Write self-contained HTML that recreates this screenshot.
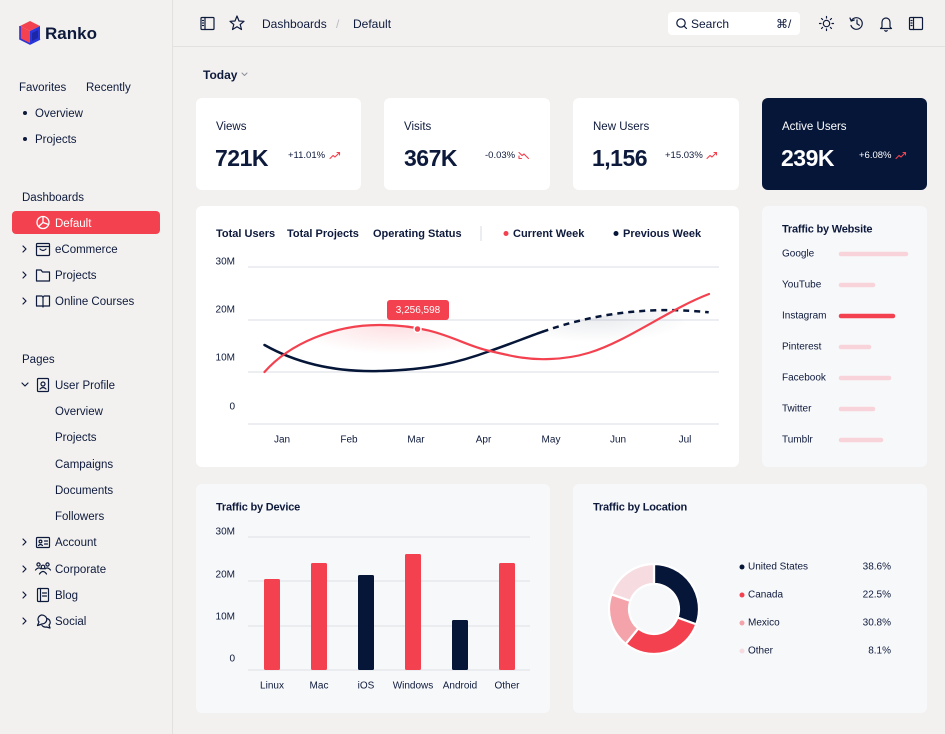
<!DOCTYPE html>
<html><head><meta charset="utf-8">
<style>
*{margin:0;padding:0;box-sizing:border-box}
body{width:945px;height:734px;overflow:hidden;background:#f2f1ef;font-family:"Liberation Sans",sans-serif;color:#0e1a3c;position:relative}
.t{position:absolute;white-space:nowrap;line-height:16px;height:16px;font-size:11.5px;transform:translateY(1px)}
.card{position:absolute;border-radius:6px;background:#fff}
.lc{background:#f7f8fa}
svg.ov{position:absolute;left:0;top:0}
</style></head><body>
<div style="position:absolute;left:172px;top:0;width:1px;height:734px;background:#e3e1de"></div>
<div style="position:absolute;left:173px;top:46px;width:772px;height:1px;background:#e3e1de"></div>

<div class="t" style="left:45px;top:24px;font-size:17px;font-weight:bold;line-height:18px;height:18px">Ranko</div>
<div class="t" style="left:19px;top:79px">Favorites</div>
<div class="t" style="left:86px;top:79px">Recently</div>
<div class="t" style="left:35px;top:105px">Overview</div>
<div class="t" style="left:35px;top:131px">Projects</div>
<div class="t" style="left:22px;top:189px">Dashboards</div>
<div style="position:absolute;left:12px;top:211px;width:148px;height:23px;border-radius:4px;background:#f3414f"></div>
<div class="t" style="left:55px;top:215px;color:#fff">Default</div>
<div class="t" style="left:55px;top:241px">eCommerce</div>
<div class="t" style="left:55px;top:267px">Projects</div>
<div class="t" style="left:55px;top:293px">Online Courses</div>
<div class="t" style="left:22px;top:351px">Pages</div>
<div class="t" style="left:55px;top:377px">User Profile</div>
<div class="t" style="left:55px;top:403px">Overview</div>
<div class="t" style="left:55px;top:429px">Projects</div>
<div class="t" style="left:55px;top:456px">Campaigns</div>
<div class="t" style="left:55px;top:482px">Documents</div>
<div class="t" style="left:55px;top:508px">Followers</div>
<div class="t" style="left:55px;top:534px">Account</div>
<div class="t" style="left:55px;top:561px">Corporate</div>
<div class="t" style="left:55px;top:587px">Blog</div>
<div class="t" style="left:55px;top:613px">Social</div>

<div class="t" style="left:262px;top:15px;font-size:12px">Dashboards</div>
<div class="t" style="left:336px;top:15px;font-size:12px;color:#b9bcc4">/</div>
<div class="t" style="left:353px;top:15px;font-size:12px">Default</div>
<div style="position:absolute;left:668px;top:12px;width:132px;height:23px;border-radius:4px;background:#fff"></div>
<div class="t" style="left:691px;top:15px;font-size:12px">Search</div>
<div class="t" style="left:776px;top:15px;font-size:12px">⌘/</div>
<div class="t" style="left:203px;top:66px;font-size:12px;font-weight:bold">Today</div>

<div class="card" style="left:196px;top:98px;width:165px;height:92px"></div>
<div class="card" style="left:384px;top:98px;width:166px;height:92px"></div>
<div class="card" style="left:573px;top:98px;width:166px;height:92px"></div>
<div class="card" style="left:762px;top:98px;width:165px;height:92px;background:#061638"></div>

<div class="t" style="left:216px;top:118px;font-size:11.5px">Views</div>
<div class="t" style="left:215px;top:146px;font-size:23px;font-weight:bold;letter-spacing:-0.5px;line-height:22px;height:22px">721K</div>
<div class="t" style="left:288px;top:147px;font-size:9.5px">+11.01%</div>

<div class="t" style="left:404px;top:118px;font-size:11.5px">Visits</div>
<div class="t" style="left:404px;top:146px;font-size:23px;font-weight:bold;letter-spacing:-0.5px;line-height:22px;height:22px">367K</div>
<div class="t" style="left:485px;top:147px;font-size:9.5px">-0.03%</div>

<div class="t" style="left:593px;top:118px;font-size:11.5px">New Users</div>
<div class="t" style="left:592px;top:146px;font-size:23px;font-weight:bold;letter-spacing:-0.5px;line-height:22px;height:22px">1,156</div>
<div class="t" style="left:665px;top:147px;font-size:9.5px">+15.03%</div>

<div class="t" style="left:782px;top:118px;font-size:11.5px;color:#fff">Active Users</div>
<div class="t" style="left:781px;top:146px;font-size:23px;font-weight:bold;letter-spacing:-0.5px;line-height:22px;height:22px;color:#fff">239K</div>
<div class="t" style="left:859px;top:147px;font-size:9.5px;color:#fff">+6.08%</div>

<div class="card" style="left:196px;top:206px;width:543px;height:261px"></div>
<div class="card lc" style="left:762px;top:206px;width:165px;height:261px"></div>
<div class="card lc" style="left:196px;top:484px;width:354px;height:229px"></div>
<div class="card lc" style="left:573px;top:484px;width:354px;height:229px"></div>

<svg class="ov" width="945" height="734" viewBox="0 0 945 734" font-family="Liberation Sans, sans-serif">
<defs>
  <clipPath id="belowRed"><path d="M264.5,372 C290,343 335,325 379,325 C440,325 460,345 490,351 C515,357 530,360 550,359 C580,358 600,350 620,340 C650,325 680,305 709,294 L709,430 L264.5,430 Z"/></clipPath>
  <clipPath id="belowDash"><path d="M542.6,331.7 C570,322 600,315 630,312 C660,309 685,310 708.7,312.3 L709,430 L542,430 Z"/></clipPath>
  <radialGradient id="rg" cx="0.5" cy="0.3" r="0.6">
    <stop offset="0" stop-color="#f3414f" stop-opacity="0.18"/>
    <stop offset="1" stop-color="#f3414f" stop-opacity="0"/>
  </radialGradient>
  <radialGradient id="gg" cx="0.45" cy="0.3" r="0.6">
    <stop offset="0" stop-color="#061638" stop-opacity="0.09"/>
    <stop offset="1" stop-color="#061638" stop-opacity="0"/>
  </radialGradient>
</defs>

<polygon points="30,21 40,26 30,31 20,26" fill="#f3414f"/>
<polygon points="20,26 30,31 30,44 20,39" fill="#f3414f"/>
<polygon points="30,31 40,26 40,39 30,44" fill="#2936d9"/>
<polyline points="20,26 20,39 30,44 40,39" fill="none" stroke="#2936d9" stroke-width="1.6"/>
<polygon points="32,33 38,30 38,38 32,41" fill="#1c27a8"/>

<g fill="#0e1a3c"><circle cx="25" cy="113" r="2"/><circle cx="25" cy="139" r="2"/></g>
<g fill="none" stroke="#0e1a3c" stroke-width="1.2" stroke-linecap="round" stroke-linejoin="round">
  <polyline points="23,246 26,249 23,252"/>
  <polyline points="23,272 26,275 23,278"/>
  <polyline points="23,298 26,301 23,304"/>
  <polyline points="22,383 25,386 28,383"/>
  <polyline points="23,539 26,542 23,545"/>
  <polyline points="23,566 26,569 23,572"/>
  <polyline points="23,592 26,595 23,598"/>
  <polyline points="23,618 26,621 23,624"/>
  <rect x="36.5" y="243.5" width="13" height="12" rx="1"/><line x1="36.5" y1="246.5" x2="49.5" y2="246.5"/><path d="M40,249 Q43,252 46,249"/>
  <path d="M36.5,270 L41,270 L42.5,272 L49.5,272 L49.5,281 L36.5,281 Z"/>
  <path d="M36.5,296 L42,296 Q43,297 43,298 L43,307 Q43,306 42,306 L36.5,306 Z M49.5,296 L44,296 Q43,297 43,298 M43,307 Q43,306 44,306 L49.5,306 L49.5,296"/>
  <rect x="37.5" y="378.5" width="11" height="13" rx="1"/><circle cx="43" cy="384" r="2"/><path d="M40,389 Q43,386 46,389"/>
  <rect x="36.5" y="537.5" width="13" height="10" rx="1"/><circle cx="40.5" cy="541.5" r="1.4"/><path d="M38.5,545.5 Q40.5,543.5 42.5,545.5"/><line x1="44.5" y1="541" x2="47.5" y2="541"/><line x1="44.5" y1="544" x2="47.5" y2="544"/>
  <circle cx="43" cy="567" r="1.8"/><circle cx="38.5" cy="564.5" r="1.6"/><circle cx="47.5" cy="564.5" r="1.6"/><path d="M39.5,574 Q43,569 46.5,574"/><path d="M35.5,570 Q38.5,566.5 41,569"/><path d="M50.5,570 Q47.5,566.5 45,569"/>
  <rect x="37.5" y="588.5" width="11" height="13" rx="1"/><line x1="40.5" y1="588.5" x2="40.5" y2="601.5"/><line x1="42.5" y1="593" x2="46.5" y2="593"/><line x1="42.5" y1="596" x2="46.5" y2="596"/>
  <path d="M41.5,615 A5,4.5 0 1 1 42,624 L37.5,625.5 L39,622 A5,4.5 0 0 1 41.5,615 Z"/><path d="M47,618.5 A4.5,4 0 0 1 49,625 L50,628 L46.5,627 A4.5,4 0 0 1 42,625.5"/>
</g>
<g fill="none" stroke="#fff" stroke-width="1.3">
  <circle cx="43" cy="222.5" r="6"/><path d="M43,216.5 L43,222.5 L48.5,224.5 M43,222.5 L38.5,226.5"/>
</g>

<g fill="none" stroke="#0e1a3c" stroke-width="1.2" stroke-linejoin="round" stroke-linecap="round">
  <rect x="201" y="17.5" width="13" height="12" rx="1"/><line x1="205" y1="17.5" x2="205" y2="29.5"/>
  <line x1="202.5" y1="20.5" x2="203.5" y2="20.5"/><line x1="202.5" y1="23" x2="203.5" y2="23"/><line x1="202.5" y1="25.5" x2="203.5" y2="25.5"/>
  <polygon points="237,16 239,21 244,21.3 240.2,24.5 241.5,29.5 237,26.7 232.5,29.5 233.8,24.5 230,21.3 235,21"/>
  <circle cx="681" cy="23" r="4.2"/><line x1="684" y1="26" x2="686.5" y2="28.5"/>
  <circle cx="826.5" cy="23.5" r="3.2"/>
  <g>
   <line x1="826.5" y1="16.5" x2="826.5" y2="18"/><line x1="826.5" y1="29" x2="826.5" y2="30.5"/>
   <line x1="819.5" y1="23.5" x2="821" y2="23.5"/><line x1="832" y1="23.5" x2="833.5" y2="23.5"/>
   <line x1="821.5" y1="18.5" x2="822.6" y2="19.6"/><line x1="830.4" y1="27.4" x2="831.5" y2="28.5"/>
   <line x1="821.5" y1="28.5" x2="822.6" y2="27.4"/><line x1="830.4" y1="19.6" x2="831.5" y2="18.5"/>
  </g>
  <path d="M851.2,21 A5.8,5.8 0 1 1 851,25.5"/><polyline points="850,18 851.2,21 854.2,20"/><polyline points="857,20 857,23.7 859.3,25.3"/>
  <path d="M882,27 L882,22 A4,4 0 0 1 890,22 L890,27 L891.5,28.5 L880.5,28.5 Z"/><path d="M884.8,30.5 Q886,32 887.2,30.5"/>
  <rect x="909.5" y="17.5" width="13" height="12" rx="1"/><line x1="913.5" y1="17.5" x2="913.5" y2="29.5"/>
  <line x1="911" y1="20.5" x2="912" y2="20.5"/><line x1="911" y1="23" x2="912" y2="23"/><line x1="911" y1="25.5" x2="912" y2="25.5"/>
  <polyline points="242,73 244.5,75.5 247,73" stroke="#8a8f9c" stroke-width="1"/>
</g>

<g fill="none" stroke="#f3414f" stroke-width="1.1" stroke-linecap="round" stroke-linejoin="round">
  <polyline points="330,158.5 333,155.5 335,157 339.5,152.5"/><polyline points="337,152.5 339.5,152.5 339.5,155"/>
  <polyline points="519,152.5 522,155.5 524,154 528.5,158.5"/><polyline points="519,156 519,158.5 521.5,158.5"/>
  <polyline points="707,158.5 710,155.5 712,157 716.5,152.5"/><polyline points="714,152.5 716.5,152.5 716.5,155"/>
  <polyline points="896,158.5 899,155.5 901,157 905.5,152.5"/><polyline points="903,152.5 905.5,152.5 905.5,155"/>
</g>

<g font-size="11" font-weight="bold" fill="#0e1a3c" dominant-baseline="central">
  <text x="216" y="234">Total Users</text>
  <text x="287" y="234">Total Projects</text>
  <text x="373" y="234">Operating Status</text>
  <text x="513" y="234">Current Week</text>
  <text x="623" y="234">Previous Week</text>
</g>
<line x1="481" y1="226" x2="481" y2="241" stroke="#d9dbe0"/>
<circle cx="506" cy="233.5" r="2.5" fill="#f3414f"/>
<circle cx="616" cy="233.5" r="2.5" fill="#061638"/>
<g stroke="#e1e4ea" stroke-width="1.2">
  <line x1="248" y1="267" x2="719" y2="267"/>
  <line x1="248" y1="320" x2="719" y2="320"/>
  <line x1="248" y1="372" x2="719" y2="372"/>
  <line x1="248" y1="424" x2="719" y2="424"/>
</g>
<g font-size="10" fill="#0e1a3c" dominant-baseline="central" text-anchor="end">
  <text x="235" y="262">30M</text><text x="235" y="310">20M</text><text x="235" y="358">10M</text><text x="235" y="407">0</text>
</g>
<g font-size="10" fill="#0e1a3c" dominant-baseline="central" text-anchor="middle">
  <text x="282" y="440">Jan</text><text x="349" y="440">Feb</text><text x="416" y="440">Mar</text><text x="483.5" y="440">Apr</text><text x="551" y="440">May</text><text x="618" y="440">Jun</text><text x="685" y="440">Jul</text>
</g>
<ellipse cx="400" cy="334" rx="95" ry="26" fill="url(#rg)" clip-path="url(#belowRed)"/>
<ellipse cx="605" cy="325" rx="80" ry="22" fill="url(#gg)" clip-path="url(#belowDash)"/>
<path d="M264.5,345 C300,365 340,372 379,371 C430,370 460,362 490,351 C510,344 525,338 542.6,331.7" fill="none" stroke="#061638" stroke-width="2.5" stroke-linecap="round"/>
<path d="M542.6,331.7 C570,322 600,315 630,312 C660,309 685,310 708.7,312.3" fill="none" stroke="#061638" stroke-width="2.5" stroke-dasharray="6,5"/>
<path d="M264.5,372 C290,343 335,325 379,325 C440,325 460,345 490,351 C515,357 530,360 550,359 C580,358 600,350 620,340 C650,325 680,305 709,294" fill="none" stroke="#f3414f" stroke-width="2.2" stroke-linecap="round"/>
<circle cx="417.5" cy="329" r="3.5" fill="#f3414f" stroke="#fff" stroke-width="1.5"/>
<rect x="387" y="300" width="62" height="20" rx="3" fill="#f3414f"/>
<text x="418" y="310.5" font-size="10" fill="#fff" text-anchor="middle" dominant-baseline="central">3,256,598</text>

<text x="782" y="229.5" font-size="11" font-weight="bold" fill="#0e1a3c" dominant-baseline="central" letter-spacing="-0.2">Traffic by Website</text>
<g font-size="10" fill="#0e1a3c" dominant-baseline="central">
  <text x="782" y="254">Google</text><text x="782" y="285">YouTube</text><text x="782" y="316">Instagram</text><text x="782" y="347">Pinterest</text><text x="782" y="378">Facebook</text><text x="782" y="409">Twitter</text><text x="782" y="440">Tumblr</text>
</g>
<g stroke-linecap="round" stroke-width="4.5" stroke="#f8d3d9">
  <line x1="841" y1="254" x2="906" y2="254"/>
  <line x1="841" y1="285" x2="873" y2="285"/>
  <line x1="841" y1="316" x2="893" y2="316" stroke="#f3414f"/>
  <line x1="841" y1="347" x2="869" y2="347"/>
  <line x1="841" y1="378" x2="889" y2="378"/>
  <line x1="841" y1="409" x2="873" y2="409"/>
  <line x1="841" y1="440" x2="881" y2="440"/>
</g>

<text x="216" y="507.5" font-size="11" font-weight="bold" fill="#0e1a3c" dominant-baseline="central" letter-spacing="-0.2">Traffic by Device</text>
<g stroke="#e1e4ea" stroke-width="1.2">
  <line x1="248" y1="537" x2="530" y2="537"/><line x1="248" y1="581" x2="530" y2="581"/><line x1="248" y1="626" x2="530" y2="626"/><line x1="248" y1="670" x2="530" y2="670"/>
</g>
<g font-size="10" fill="#0e1a3c" dominant-baseline="central" text-anchor="end">
  <text x="235" y="532">30M</text><text x="235" y="575">20M</text><text x="235" y="617">10M</text><text x="235" y="659">0</text>
</g>
<g>
  <rect x="264" y="579" width="16" height="91" rx="1.5" fill="#f3414f"/>
  <rect x="311" y="563" width="16" height="107" rx="1.5" fill="#f3414f"/>
  <rect x="358" y="575" width="16" height="95" rx="1.5" fill="#061638"/>
  <rect x="405" y="554" width="16" height="116" rx="1.5" fill="#f3414f"/>
  <rect x="452" y="620" width="16" height="50" rx="1.5" fill="#061638"/>
  <rect x="499" y="563" width="16" height="107" rx="1.5" fill="#f3414f"/>
</g>
<g font-size="10" fill="#0e1a3c" dominant-baseline="central" text-anchor="middle">
  <text x="272" y="686">Linux</text><text x="319" y="686">Mac</text><text x="366" y="686">iOS</text><text x="413" y="686">Windows</text><text x="460" y="686">Android</text><text x="507" y="686">Other</text>
</g>

<text x="593" y="507.5" font-size="11" font-weight="bold" fill="#0e1a3c" dominant-baseline="central" letter-spacing="-0.2">Traffic by Location</text>
<g stroke="#fff" stroke-width="2.2" stroke-linejoin="round">
  <path d="M654,564 A45,45 0 0 1 696.29,624.39 L677.49,617.55 A25,25 0 0 0 654,584 Z" fill="#061638"/>
  <path d="M696.29,624.39 A45,45 0 0 1 625.68,643.97 L638.27,628.43 A25,25 0 0 0 677.49,617.55 Z" fill="#f3414f"/>
  <path d="M625.68,643.97 A45,45 0 0 1 611.45,594.35 L630.36,600.86 A25,25 0 0 0 638.27,628.43 Z" fill="#f5a3ab"/>
  <path d="M611.45,594.35 A45,45 0 0 1 654,564 L654,584 A25,25 0 0 0 630.36,600.86 Z" fill="#f6dce1"/>
</g>
<circle cx="742" cy="567" r="2.5" fill="#061638"/>
<circle cx="742" cy="595" r="2.5" fill="#f3414f"/>
<circle cx="742" cy="623" r="2.5" fill="#f5a3ab"/>
<circle cx="742" cy="651" r="2.5" fill="#f6dce1"/>
<g font-size="10" fill="#0e1a3c" dominant-baseline="central">
  <text x="748" y="567">United States</text><text x="748" y="595">Canada</text><text x="748" y="623">Mexico</text><text x="748" y="651">Other</text>
</g>
<g font-size="10" fill="#0e1a3c" dominant-baseline="central" text-anchor="end">
  <text x="891" y="567">38.6%</text><text x="891" y="595">22.5%</text><text x="891" y="623">30.8%</text><text x="891" y="651">8.1%</text>
</g>
</svg>
</body></html>
